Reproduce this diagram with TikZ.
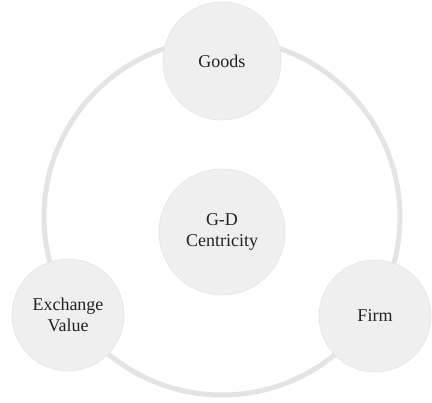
\documentclass[tikz,border=0pt]{standalone}
\usepackage{fontspec}
\setmainfont{Liberation Serif}
\usepackage{tikz}
\definecolor{bubbleGray}{HTML}{EFEFEF}
\definecolor{ringGray}{HTML}{E4E4E4}
\definecolor{textGray}{HTML}{222222}
\tikzstyle{bubble} = [circle, fill=bubbleGray, draw=ringGray, line width=0.6pt, text=textGray, align=center, font=\fontsize{18}{21}\selectfont, inner sep=0pt]

\begin{document}
\begin{tikzpicture}[x=1pt,y=1pt]
	\useasboundingbox (0,0) rectangle (432,403);
	
	%Coordinates
	\coordinate (ringCenter) at (222,186);
	
	%Ring
	\draw[ringGray, line width=5pt] (ringCenter) circle (178);
	
	%Nodes
	\node [bubble, minimum size=118pt] (goodsNode) at ([shift={(0,156)}]ringCenter) {Goods};
	\node [bubble, minimum size=126pt] (centerNode) at ([shift={(0,-15)}]ringCenter) {G-D\\Centricity};
	\node [bubble, minimum size=112pt] (exchangeNode) at ([shift={(-154,-98)}]ringCenter) {Exchange\\Value};
	\node [bubble, minimum size=112pt] (firmNode) at ([shift={(153,-99)}]ringCenter) {Firm};
\end{tikzpicture}
\end{document}
